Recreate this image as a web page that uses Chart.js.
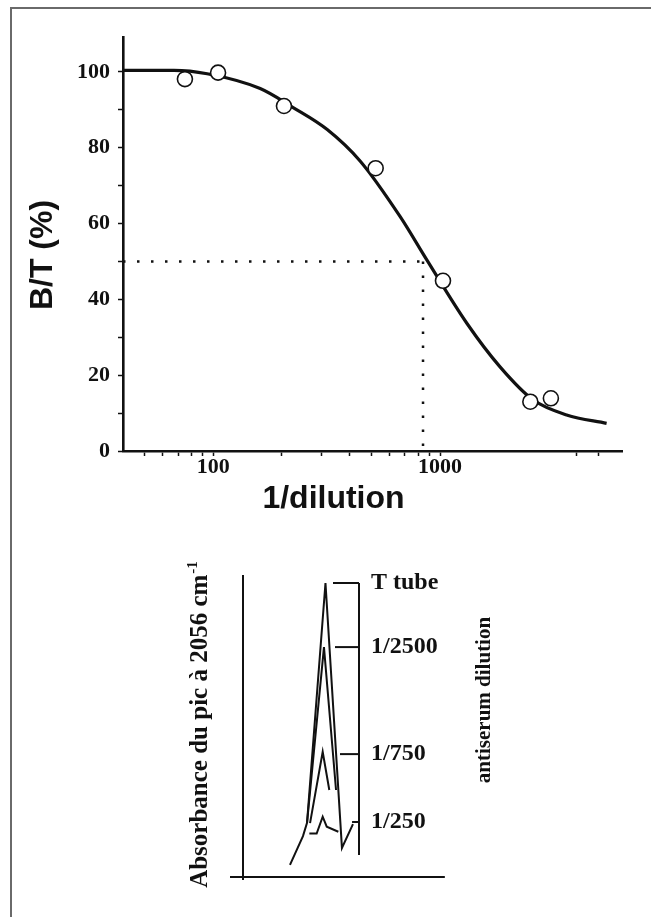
<!DOCTYPE html>
<html>
<head>
<meta charset="utf-8">
<script src="https://cdn.jsdelivr.net/npm/chart.js@4/dist/chart.umd.min.js"></script>
<style>
html,body{margin:0;padding:0;background:#fff;width:651px;height:917px;overflow:hidden;}
#frame{position:absolute;left:10px;top:7px;width:641px;height:910px;border-top:2px solid #6a6a6a;border-left:2px solid #6a6a6a;box-sizing:border-box;}
#c1{position:absolute;left:0;top:0;}
#c2{position:absolute;left:0;top:540px;}
</style>
</head>
<body>
<div id="frame"></div>
<canvas id="c1" width="651" height="530"></canvas>
<canvas id="c2" width="651" height="377"></canvas>
<script>
// ---------- top chart data ----------
const dilution = [75, 105, 205, 520, 1030, 2500, 3080];
const bindingPct = [98.1, 99.8, 91.0, 74.6, 44.9, 13.0, 13.9];
const fitDilution = [40, 67, 94, 161, 225, 318, 444, 667, 874, 1312, 1838, 2570, 3614, 5423];
const fitBinding = [100.4, 100.4, 99.5, 95.6, 90.6, 84.8, 76.5, 61.8, 50.4, 33.7, 22.2, 13.5, 9.5, 7.3];
const halfDilution = 841;
const halfBinding = 50;
const xTickValues = [50, 60, 70, 80, 90, 100, 200, 300, 400, 500, 600, 700, 800, 900, 1000, 4000, 5000];
const xTickLabels = [100, 1000];
const yTickValues = [0, 10, 20, 30, 40, 50, 60, 70, 80, 90, 100];
const yTickLabels = [0, 20, 40, 60, 80, 100];
const yTitle = 'B/T (%)';
const xTitle = '1/dilution';

// ---------- bottom chart data (arbitrary units) ----------
const tTubeX = [40.5, 51.7, 55.2, 71.1, 85.3, 94.8];
const tTubeY = [4.1, 13.9, 18.4, 100, 9.9, 18.0];
const d2500X = [55.2, 69.8, 80.2];
const d2500Y = [18.4, 78.2, 29.6];
const d750X = [57.8, 68.7, 74.4];
const d750Y = [18.3, 42.6, 29.6];
const d250X = [57.2, 63.5, 68.7, 72.2, 82.2];
const d250Y = [14.8, 14.8, 20.5, 17.1, 15.4];
const dilutionNames = ['T tube', '1/2500', '1/750', '1/250'];
const dilutionLevels = [100, 78.2, 41.8, 18.7];
const dilutionTickStart = [77.6, 79.3, 83.6, 94.0];
const absorbanceTitle = 'Absorbance du pic à 2056 cm';
const absorbanceSup = '-1';
const dilutionTitle = 'antiserum dilution';

const INK = '#111';
const SERIF = '"Liberation Serif", "Times New Roman", serif';
const SANS = '"Liberation Sans", Arial, sans-serif';

const freeTitles = {
  id: 'freeTitles',
  afterDraw(chart, args, opts) {
    const ctx = chart.ctx;
    (opts.items || []).forEach(it => {
      ctx.save();
      ctx.fillStyle = INK;
      ctx.textBaseline = 'alphabetic';
      ctx.translate(it.x, it.y);
      if (it.rotate) ctx.rotate(it.rotate);
      ctx.font = it.font;
      const w1 = ctx.measureText(it.text).width;
      let w2 = 0;
      if (it.sup) { ctx.font = it.supFont; w2 = ctx.measureText(it.sup).width; }
      const start = -(w1 + w2) / 2;
      ctx.textAlign = 'left';
      ctx.font = it.font;
      ctx.fillText(it.text, start, 0);
      if (it.sup) {
        ctx.font = it.supFont;
        ctx.fillText(it.sup, start + w1 + 1, -it.supRaise);
      }
      ctx.restore();
    });
  }
};

const pts = (xs, ys) => xs.map((x, i) => ({x, y: ys[i]}));

// ---------- top chart ----------
new Chart(document.getElementById('c1'), {
  type: 'line',
  data: {
    datasets: [
      {
        data: pts(dilution, bindingPct),
        showLine: false,
        pointRadius: 7.5,
        pointBorderWidth: 1.6,
        pointBackgroundColor: '#fff',
        pointBorderColor: INK
      },
      {
        data: pts(fitDilution, fitBinding),
        borderColor: INK,
        borderWidth: 3.2,
        pointRadius: 0,
        cubicInterpolationMode: 'monotone'
      },
      {
        data: [{x: 40, y: halfBinding}, {x: halfDilution, y: halfBinding}],
        borderColor: INK,
        borderWidth: 2.5,
        borderDash: [2.5, 11.5],
        pointRadius: 0
      },
      {
        data: [{x: halfDilution, y: halfBinding}, {x: halfDilution, y: 0}],
        borderColor: INK,
        borderWidth: 2.5,
        borderDash: [2.5, 11.5],
        pointRadius: 0
      }
    ]
  },
  options: {
    responsive: false,
    animation: false,
    layout: {padding: {top: 37, right: 29, left: 0, bottom: 0}},
    plugins: {
      legend: {display: false},
      tooltip: {enabled: false},
      freeTitles: {
        items: [
          {text: yTitle, x: 52, y: 255, rotate: -Math.PI / 2, font: 'bold 32px ' + SANS},
          {text: xTitle, x: 333.5, y: 508, font: 'bold 32px ' + SANS}
        ]
      }
    },
    scales: {
      x: {
        type: 'logarithmic',
        min: 40,
        max: 6340,
        afterFit: s => { s.height = 79; },
        afterBuildTicks: s => { s.ticks = xTickValues.map(v => ({value: v})); },
        border: {display: true, color: INK, width: 2.6},
        grid: {display: true, drawOnChartArea: false, drawTicks: true, tickLength: 5, tickColor: INK, tickWidth: 1.5},
        ticks: {
          autoSkip: false, maxRotation: 0, padding: -2, color: INK,
          font: {family: SERIF, weight: 'bold', size: 22},
          callback: v => xTickLabels.includes(v) ? String(v) : ''
        }
      },
      y: {
        type: 'linear',
        min: 0,
        max: 109.2,
        afterFit: s => { s.width = 123; },
        afterBuildTicks: s => { s.ticks = yTickValues.map(v => ({value: v})); },
        border: {display: true, color: INK, width: 2.6},
        grid: {display: true, drawOnChartArea: false, drawTicks: true, tickLength: 5, tickColor: INK, tickWidth: 1.5},
        ticks: {
          padding: 8, color: INK,
          font: {family: SERIF, weight: 'bold', size: 22},
          callback: v => yTickLabels.includes(v) ? String(v) : ''
        }
      }
    }
  },
  plugins: [freeTitles]
});

// ---------- bottom chart ----------
const lineDs = (data, w) => ({data, borderColor: INK, borderWidth: w, pointRadius: 0, clip: false, tension: 0});
const bottomSets = [
  lineDs(pts(tTubeX, tTubeY), 2),
  lineDs(pts(d2500X, d2500Y), 2),
  lineDs(pts(d750X, d750Y), 2),
  lineDs(pts(d250X, d250Y), 2),
  lineDs([{x: 0, y: -1}, {x: 0, y: 102.7}], 2),
  lineDs([{x: -11.2, y: 0}, {x: 174, y: 0}], 2),
  lineDs([{x: 100, y: 7.5}, {x: 100, y: 100}], 2)
];
dilutionLevels.forEach((lv, i) => {
  bottomSets.push(lineDs([{x: dilutionTickStart[i], y: lv}, {x: 100, y: lv}], 2));
});

new Chart(document.getElementById('c2'), {
  type: 'line',
  data: {datasets: bottomSets},
  options: {
    responsive: false,
    animation: false,
    layout: {padding: {top: 43, bottom: 40, left: 243, right: 0}},
    plugins: {
      legend: {display: false},
      tooltip: {enabled: false},
      freeTitles: {
        items: [
          {text: absorbanceTitle, sup: absorbanceSup, x: 207, y: 185, rotate: -Math.PI / 2,
           font: 'bold 25px ' + SERIF, supFont: 'bold 15px ' + SERIF, supRaise: 10},
          {text: dilutionTitle, x: 490, y: 160, rotate: -Math.PI / 2, font: 'bold 21px ' + SERIF}
        ]
      }
    },
    scales: {
      x: {type: 'linear', min: 0, max: 100, display: false},
      y: {type: 'linear', min: 0, max: 100, display: false},
      y2: {
        type: 'linear', position: 'right', min: 0, max: 100,
        afterFit: s => { s.width = 292; },
        afterBuildTicks: s => { s.ticks = dilutionLevels.map(v => ({value: v})); },
        border: {display: false},
        grid: {display: false, drawTicks: false},
        ticks: {
          padding: 12, color: INK,
          font: {family: SERIF, weight: 'bold', size: 24},
          callback: (v, i) => dilutionNames[i]
        }
      }
    }
  },
  plugins: [freeTitles]
});
</script>
</body>
</html>
